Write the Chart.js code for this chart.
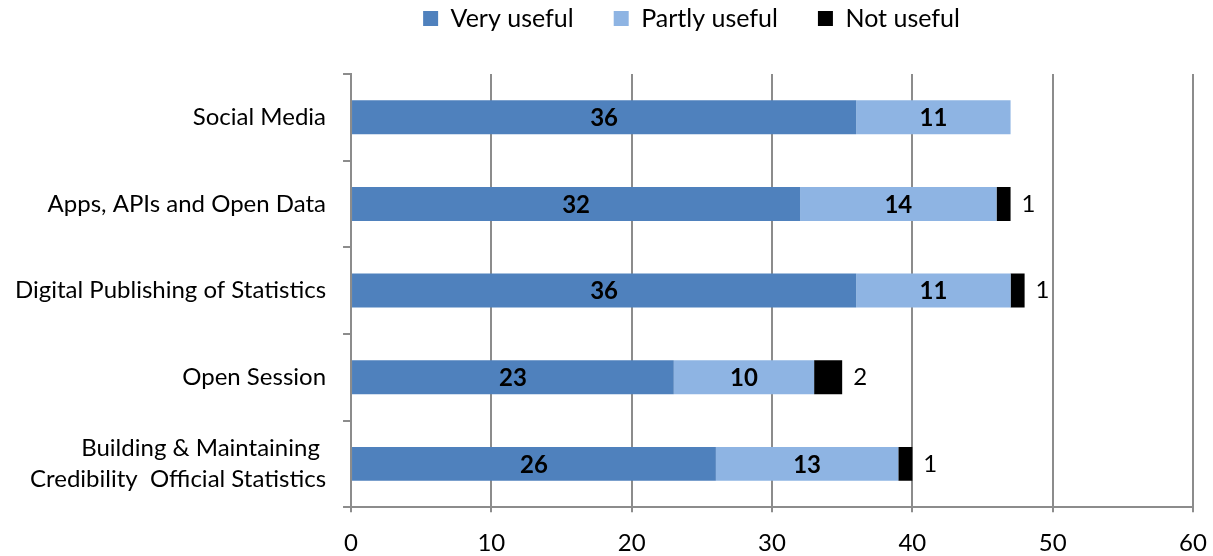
<!DOCTYPE html>
<html>
<head>
<meta charset="utf-8">
<title>Usefulness of sessions</title>
<script src="https://cdn.jsdelivr.net/npm/chart.js@4/dist/chart.umd.min.js"></script>
<style>
  html, body { margin: 0; padding: 0; background: #fff; }
  #wrap { width: 1213px; height: 556px; position: relative; }
</style>
</head>
<body>
<div id="wrap"><canvas id="chart"></canvas></div>
<script>
(function () {
  'use strict';

  // ── Data ────────────────────────────────────────────────────────────────────
  var categories = [
    'Social Media',
    'Apps, APIs and Open Data',
    'Digital Publishing of Statistics',
    'Open Session',
    ['Building & Maintaining ', 'Credibility  Official Statistics']
  ];
  var veryUseful = [36, 32, 36, 23, 26];
  var partlyUseful = [11, 14, 11, 10, 13];
  var notUseful = [0, 1, 1, 2, 1];
  var xTicks = [0, 10, 20, 30, 40, 50, 60];

  var FONT = 'Lato, "Open Sans", sans-serif';
  var AXIS_GREY = '#8c8c8c';

  // Inline value labels: bold inside the blue bars, plain to the right of black
  var valueLabels = {
    id: 'valueLabels',
    afterDatasetsDraw: function (chart) {
      var ctx = chart.ctx;
      ctx.save();
      ctx.fillStyle = '#000';
      ctx.textBaseline = 'middle';
      chart.data.datasets.forEach(function (ds, di) {
        var meta = chart.getDatasetMeta(di);
        meta.data.forEach(function (bar, i) {
          var v = ds.data[i];
          if (!v) { return; }
          if (di < 2) {
            ctx.font = 'bold 24px ' + FONT;
            ctx.textAlign = 'center';
            ctx.fillText(String(v), (bar.x + bar.base) / 2, bar.y + 1);
          } else {
            ctx.font = '24px ' + FONT;
            ctx.textAlign = 'left';
            ctx.fillText(String(v), bar.x + 11, bar.y);
          }
        });
      });
      ctx.restore();
    }
  };

  // Extra room under the legend, and nudge it right of the canvas centre
  // like the original (it is centred over the plot, not the page)
  var legendSpacing = {
    id: 'legendSpacing',
    beforeInit: function (chart) {
      var fit = chart.legend.fit;
      chart.legend.fit = function () {
        fit.call(this);
        this.height += 33;
      };
    },
    afterLayout: function (chart) {
      chart.legend.left += 96;
      chart.legend.right += 96;
    }
  };

  new Chart(document.getElementById('chart'), {
    type: 'bar',
    data: {
      labels: categories,
      datasets: [{
        label: 'Very useful',
        data: veryUseful,
        backgroundColor: '#4f81bd'
      }, {
        label: 'Partly useful',
        data: partlyUseful,
        backgroundColor: '#8eb4e3'
      }, {
        label: 'Not useful',
        data: notUseful,
        backgroundColor: '#000000'
      }]
    },
    options: {
      indexAxis: 'y',
      responsive: true,
      maintainAspectRatio: false,
      animation: false,
      categoryPercentage: 0.8,
      barPercentage: 0.49,
      // negative top pulls the legend row up; its wide padding doubles as the item gap
      layout: { padding: { left: -2, right: 20, top: -34, bottom: -19 } },
      plugins: {
        legend: {
          position: 'top',
          labels: {
            color: '#000',
            font: { family: FONT, size: 25 },
            boxWidth: 15,
            boxHeight: 15,
            padding: 40
          }
        },
        tooltip: { enabled: false }
      },
      scales: {
        x: {
          stacked: true,
          min: 0,
          max: 60,
          afterBuildTicks: function (scale) {
            scale.ticks = xTicks.map(function (v) { return { value: v }; });
          },
          // let the plot run right up to the layout padding
          afterFit: function (scale) {
            scale.paddingRight = 0;
          },
          ticks: {
            color: '#000',
            font: { family: FONT, size: 24 },
            padding: 17
          },
          grid: {
            color: AXIS_GREY,
            lineWidth: 2,
            tickLength: 5,
            tickColor: AXIS_GREY
          },
          border: { display: true, color: AXIS_GREY, width: 2 }
        },
        y: {
          stacked: true,
          ticks: {
            color: '#000',
            font: { family: FONT, size: 24, lineHeight: 1.3 },
            padding: 17
          },
          grid: {
            offset: true,
            drawOnChartArea: false,
            tickLength: 8,
            color: AXIS_GREY,
            lineWidth: 2
          },
          border: { display: true, color: AXIS_GREY, width: 2 }
        }
      }
    },
    plugins: [valueLabels, legendSpacing]
  });

}());
</script>
</body>
</html>
